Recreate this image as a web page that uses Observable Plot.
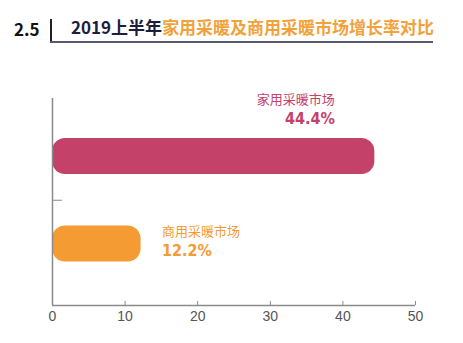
<!DOCTYPE html>
<html>
<head>
<meta charset="utf-8">
<script src="https://cdn.jsdelivr.net/npm/d3@7"></script>
<script src="https://cdn.jsdelivr.net/npm/@observablehq/plot@0.6"></script>
<style>
  html, body { margin: 0; padding: 0; background: #fff; }
  #wrap { width: 463px; height: 343px; position: relative; overflow: hidden; }
  #head { position: relative; width: 463px; height: 60px; font-family: "Noto Sans CJK SC", "Noto Sans", sans-serif; font-weight: 700; }
  #num { position: absolute; left: 14px; top: 17px; font-size: 17px; color: #111; line-height: 24px; }
  #vbar { position: absolute; left: 50px; top: 19px; width: 2px; height: 24px; background: #222; }
  #uline { position: absolute; left: 50px; top: 41px; width: 383px; height: 2px; background: #555a70; }
  #ttl { position: absolute; left: 71px; top: 15px; font-size: 17px; line-height: 24px; color: #1b1f3b; white-space: nowrap; }
  #ttl span { color: #f2a23a; }
</style>
</head>
<body>
<div id="wrap">
  <div id="head">
    <div id="num">2.5</div>
    <div id="vbar"></div>
    <div id="ttl">2019上半年<span>家用采暖及商用采暖市场增长率对比</span></div>
    <div id="uline"></div>
  </div>
  <div id="chart"></div>
</div>
<script>
const categories = ["家用采暖市场", "商用采暖市场"];
const values = [44.4, 12.2];
const valueLabels = ["44.4%", "12.2%"];
const colors = ["#c4416a", "#f59b33"];
const xTicks = [0, 10, 20, 30, 40, 50];
const boundaries = [0.5];

const rows = categories.map((c, i) => ({ i, category: c, value: values[i], label: valueLabels[i], color: colors[i] }));
const firstRow = rows.filter(d => d.i === 0);
const secondRow = rows.filter(d => d.i === 1);
const half = 0.206;

const chart = Plot.plot({
  width: 463,
  height: 283,
  marginLeft: 52,
  marginRight: 48,
  marginTop: 38,
  marginBottom: 38,
  style: { fontFamily: "'Liberation Sans', Arial, sans-serif", background: "#fff" },
  x: { domain: [0, 50] },
  y: { domain: [-0.663, 1.703], reverse: true },
  color: { type: "identity" },
  marks: [
    Plot.rectX(rows, { x1: 0, x2: "value", y1: d => d.i - half, y2: d => d.i + half, fill: "color", rx: 13 }),
    Plot.ruleX([0], { stroke: "#8a8a8a", strokeWidth: 1.5 }),
    Plot.ruleY([1.703], { stroke: "#8a8a8a", strokeWidth: 1.5 }),
    Plot.axisX({ ticks: xTicks, tickSize: -4, tickPadding: 10, fontSize: 14, color: "#555", stroke: "#8a8a8a", label: null }),
    Plot.axisY({ ticks: boundaries, tickSize: -10, tickFormat: () => "", stroke: "#8a8a8a", label: null }),
    Plot.text(firstRow, { x: "value", y: "i", text: "category", textAnchor: "end", dx: -40, dy: -57, fill: "color", fontSize: 13, fontFamily: "'Noto Sans CJK SC', sans-serif" }),
    Plot.text(firstRow, { x: "value", y: "i", text: "label", textAnchor: "end", dx: -40, dy: -37.5, fill: "color", fontSize: 16, fontWeight: 900, fontFamily: "'DejaVu Sans Condensed', 'DejaVu Sans', sans-serif" }),
    Plot.text(secondRow, { x: "value", y: "i", text: "category", textAnchor: "start", dx: 21, dy: -12, fill: "color", fontSize: 13, fontFamily: "'Noto Sans CJK SC', sans-serif" }),
    Plot.text(secondRow, { x: "value", y: "i", text: "label", textAnchor: "start", dx: 21, dy: 6.5, fill: "color", fontSize: 16, fontWeight: 900, fontFamily: "'DejaVu Sans Condensed', 'DejaVu Sans', sans-serif" })
  ]
});
document.getElementById("chart").appendChild(chart);
</script>
</body>
</html>
